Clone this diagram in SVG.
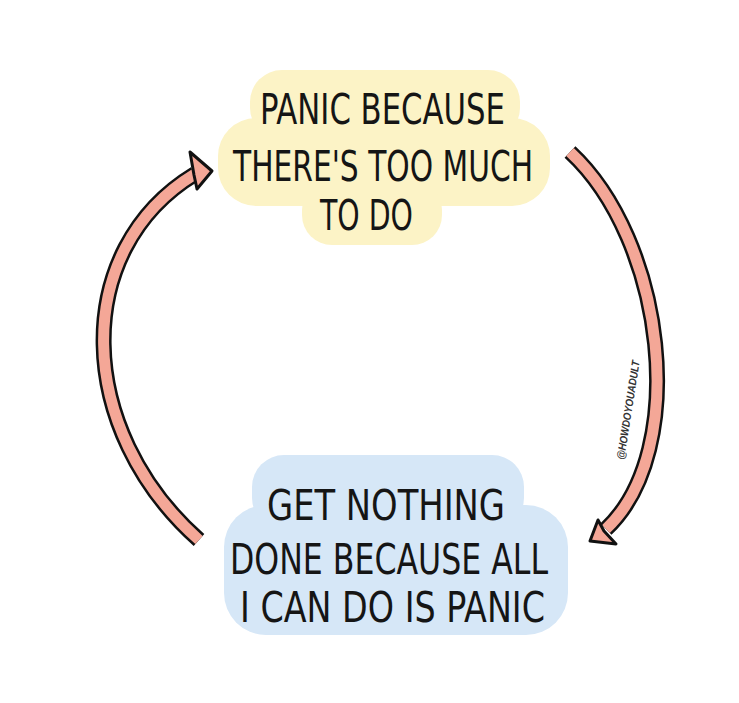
<svg xmlns="http://www.w3.org/2000/svg" width="739" height="703" viewBox="0 0 739 703">
<style>
.lbl{font-family:"Liberation Sans Narrow","DejaVu Sans Condensed","Liberation Sans",sans-serif;font-size:42px;fill:#151515}
.yb{fill:#fcf3c6}
.bb{fill:#d6e7f7}
.out{fill:none;stroke:#111;stroke-width:16;stroke-linecap:butt}
.in{fill:none;stroke:#f4a797;stroke-width:11;stroke-linecap:butt}
.head{fill:#f4a797;stroke:#111;stroke-width:3;stroke-linejoin:round}
.wm{font-family:"Liberation Sans","DejaVu Sans",sans-serif;font-size:11px;font-weight:bold;font-style:italic;fill:#333}
</style>
<rect width="739" height="703" fill="#ffffff"/>
<g id="connectors">
  <g id="arrow-left">
    <path class="out" d="M199 540 C75 430 70 250 195 174"/>
    <path class="in" d="M199 540 C75 430 70 250 195 174"/>
    <polygon class="head" points="190,152 212,171 197,189 194,175"/>
  </g>
  <g id="arrow-right">
    <path class="out" d="M570 152 C665 240 690 450 606 529"/>
    <path class="in" d="M570 152 C665 240 690 450 606 529"/>
    <polygon class="head" points="598,520 604,531 616,544 590,541"/>
  </g>
</g>
<g id="node-panic">
  <rect class="yb" x="250" y="70" width="270" height="70" rx="32"/>
  <rect class="yb" x="218" y="118" width="332" height="88" rx="38"/>
  <rect class="yb" x="302" y="180" width="140" height="65" rx="30"/>
  <text class="lbl" x="260" y="124" textLength="245" lengthAdjust="spacingAndGlyphs">PANIC BECAUSE</text>
  <text class="lbl" x="233" y="181" textLength="300" lengthAdjust="spacingAndGlyphs">THERE'S TOO MUCH</text>
  <text class="lbl" x="320" y="230" textLength="93" lengthAdjust="spacingAndGlyphs">TO DO</text>
</g>
<g id="node-nothing">
  <rect class="bb" x="252" y="455" width="272" height="75" rx="32"/>
  <rect class="bb" x="224" y="505" width="344" height="130" rx="42"/>
  <text class="lbl" x="267" y="520" textLength="238" lengthAdjust="spacingAndGlyphs">GET NOTHING</text>
  <text class="lbl" x="230" y="574" textLength="318" lengthAdjust="spacingAndGlyphs">DONE BECAUSE ALL</text>
  <text class="lbl" x="240" y="622" textLength="305" lengthAdjust="spacingAndGlyphs">I CAN DO IS PANIC</text>
</g>
<text class="wm" transform="translate(628 410) rotate(-81)" x="-50" y="4" textLength="100" lengthAdjust="spacingAndGlyphs">@HOWDOYOUADULT</text>
</svg>
